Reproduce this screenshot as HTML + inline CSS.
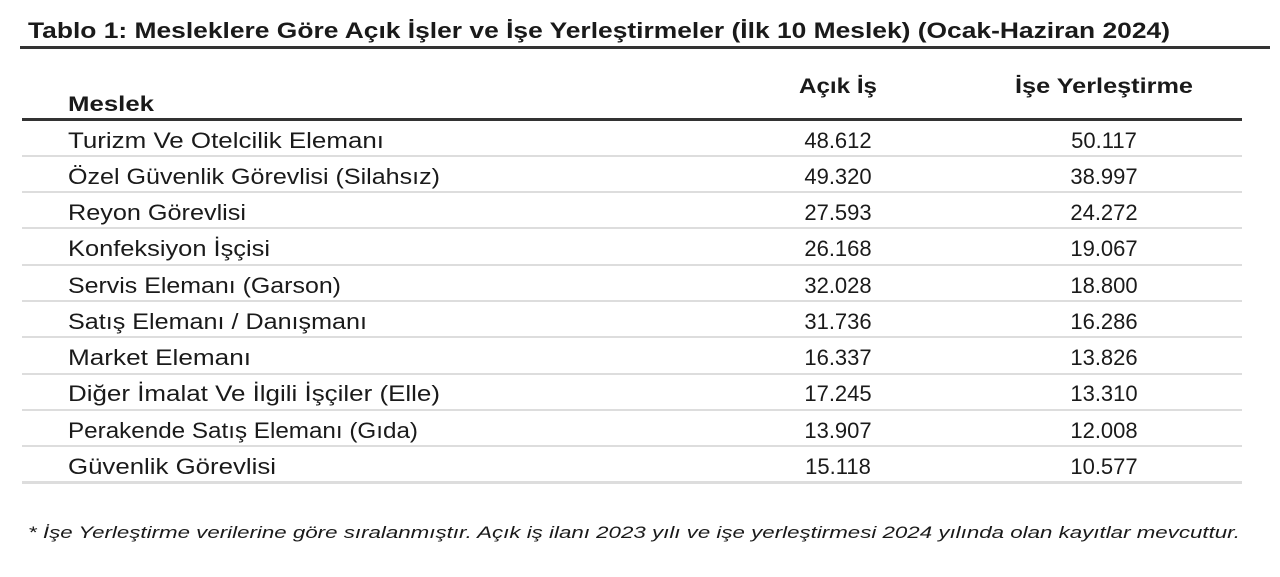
<!DOCTYPE html>
<html><head><meta charset="utf-8"><style>
html,body{margin:0;padding:0;background:#fff;}
svg{display:block;}
text{font-family:"Liberation Sans",sans-serif;fill:#1a1a1a;}
</style></head><body>
<svg width="1280" height="577" viewBox="0 0 1280 577" xmlns="http://www.w3.org/2000/svg">
<text x="28" y="38" font-size="22" font-weight="bold" textLength="1142" lengthAdjust="spacingAndGlyphs">Tablo 1: Mesleklere Göre Açık İşler ve İşe Yerleştirmeler (İlk 10 Meslek) (Ocak-Haziran 2024)</text>
<rect x="20" y="46" width="1250" height="3" fill="#333"/>
<text x="68" y="111" font-size="21" font-weight="bold" textLength="86" lengthAdjust="spacingAndGlyphs">Meslek</text>
<text x="838" y="93" font-size="21" font-weight="bold" text-anchor="middle" textLength="78" lengthAdjust="spacingAndGlyphs">Açık İş</text>
<text x="1104" y="93" font-size="21" font-weight="bold" text-anchor="middle" textLength="178" lengthAdjust="spacingAndGlyphs">İşe Yerleştirme</text>
<rect x="22" y="118" width="1220" height="3" fill="#333"/>
<g font-size="22">
<text x="68" y="148" textLength="316" lengthAdjust="spacingAndGlyphs">Turizm Ve Otelcilik Elemanı</text>
<text x="68" y="184" textLength="372" lengthAdjust="spacingAndGlyphs">Özel Güvenlik Görevlisi (Silahsız)</text>
<text x="68" y="220" textLength="178" lengthAdjust="spacingAndGlyphs">Reyon Görevlisi</text>
<text x="68" y="256" textLength="202" lengthAdjust="spacingAndGlyphs">Konfeksiyon İşçisi</text>
<text x="68" y="293" textLength="273" lengthAdjust="spacingAndGlyphs">Servis Elemanı (Garson)</text>
<text x="68" y="329" textLength="299" lengthAdjust="spacingAndGlyphs">Satış Elemanı / Danışmanı</text>
<text x="68" y="365" textLength="183" lengthAdjust="spacingAndGlyphs">Market Elemanı</text>
<text x="68" y="401" textLength="372" lengthAdjust="spacingAndGlyphs">Diğer İmalat Ve İlgili İşçiler (Elle)</text>
<text x="68" y="438" textLength="350" lengthAdjust="spacingAndGlyphs">Perakende Satış Elemanı (Gıda)</text>
<text x="68" y="474" textLength="208" lengthAdjust="spacingAndGlyphs">Güvenlik Görevlisi</text>
</g>
<g font-size="22" text-anchor="middle">
<text x="838" y="148">48.612</text><text x="1104" y="148">50.117</text>
<text x="838" y="184">49.320</text><text x="1104" y="184">38.997</text>
<text x="838" y="220">27.593</text><text x="1104" y="220">24.272</text>
<text x="838" y="256">26.168</text><text x="1104" y="256">19.067</text>
<text x="838" y="293">32.028</text><text x="1104" y="293">18.800</text>
<text x="838" y="329">31.736</text><text x="1104" y="329">16.286</text>
<text x="838" y="365">16.337</text><text x="1104" y="365">13.826</text>
<text x="838" y="401">17.245</text><text x="1104" y="401">13.310</text>
<text x="838" y="438">13.907</text><text x="1104" y="438">12.008</text>
<text x="838" y="474">15.118</text><text x="1104" y="474">10.577</text>
</g>
<g fill="#ddd">
<rect x="22" y="155" width="1220" height="2"/>
<rect x="22" y="191" width="1220" height="2"/>
<rect x="22" y="227" width="1220" height="2"/>
<rect x="22" y="264" width="1220" height="2"/>
<rect x="22" y="300" width="1220" height="2"/>
<rect x="22" y="336" width="1220" height="2"/>
<rect x="22" y="373" width="1220" height="2"/>
<rect x="22" y="409" width="1220" height="2"/>
<rect x="22" y="445" width="1220" height="2"/>
<rect x="22" y="481" width="1220" height="3"/>
</g>
<text x="28" y="538" font-size="17" font-style="italic" textLength="1212" lengthAdjust="spacingAndGlyphs">* İşe Yerleştirme verilerine göre sıralanmıştır. Açık iş ilanı 2023 yılı ve işe yerleştirmesi 2024 yılında olan kayıtlar mevcuttur.</text>
</svg>
</body></html>
